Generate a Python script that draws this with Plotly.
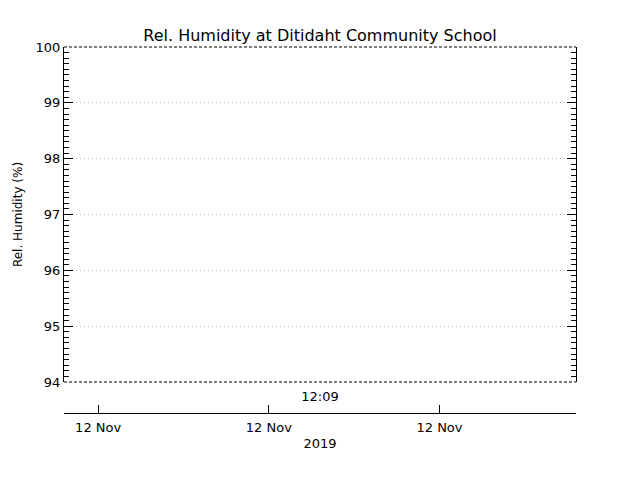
import plotly.graph_objects as go

# Data (no valid humidity readings in the window)
times = ["2019-11-12 12:09:00"]
humidity = [None]

x_range = ["2019-11-12 12:00:00", "2019-11-12 12:18:00"]
date_ticks = ["2019-11-12 12:01:12", "2019-11-12 12:07:12", "2019-11-12 12:13:12"]
date_labels = ["12 Nov", "12 Nov", "12 Nov"]
time_ticks = ["2019-11-12 12:09:00"]
time_labels = ["12:09"]
y_range = [94, 100]

font = dict(family="DejaVu Sans, sans-serif", size=13, color="black")

fig = go.Figure()

fig.add_trace(go.Scatter(
    x=times, y=humidity, mode="lines",
    line=dict(color="black", width=1), showlegend=False
))
# invisible trace so the lower date axis is drawn
fig.add_trace(go.Scatter(
    x=times, y=humidity, xaxis="x2", yaxis="y",
    mode="lines", showlegend=False, hoverinfo="skip"
))

# page body adds 8px offset, so margins are shifted by 8
fig.update_layout(
    width=640, height=480,
    margin=dict(l=56, r=72, t=39, b=75, autoexpand=False),
    paper_bgcolor="white", plot_bgcolor="white",
    font=font,
    title=dict(text="Rel. Humidity at Ditidaht Community School",
               x=(320 - 8) / 640, xanchor="center", y=1 - 27 / 480, yanchor="middle",
               yref="container", font=dict(family="DejaVu Sans, sans-serif", size=16, color="black")),
    xaxis=dict(
        type="date", range=x_range, domain=[0, 1],
        tickvals=time_ticks, ticktext=time_labels,
        ticks="", showgrid=False, showline=False, zeroline=False,
        anchor="y", ticklabelstandoff=5,
        tickfont=dict(size=13),
    ),
    xaxis2=dict(
        type="date", range=x_range, overlaying="x",
        anchor="free", position=0, side="bottom",
        tickvals=date_ticks, ticktext=date_labels,
        ticks="inside", ticklen=8, tickcolor="black",
        showline=True, linecolor="black", linewidth=1,
        showgrid=False, zeroline=False,
        tickfont=dict(size=13), ticklabelstandoff=2,
        title=dict(text="2019", standoff=5, font=dict(size=13)),
    ),
    yaxis=dict(
        range=y_range, domain=[31 / 366, 1],
        dtick=1, ticks="inside", ticklen=9, tickcolor="black",
        showline=True, linecolor="black", linewidth=1, mirror="ticks",
        showgrid=True, gridcolor="#bdbdbd", griddash="1px,3px", gridwidth=1,
        zeroline=False, tickfont=dict(size=13),
        minor=dict(dtick=0.1, ticks="inside", ticklen=5, tickcolor="black",
                   showgrid=False),
        title=dict(text="Rel. Humidity (%)", standoff=10, font=dict(size=12)),
    ),
    shapes=[
        dict(type="line", xref="x domain", yref="y domain",
             x0=0, x1=1, y0=1, y1=1,
             line=dict(color="black", width=1, dash="3px,2px")),
        dict(type="line", xref="x domain", yref="y domain",
             x0=0, x1=1, y0=0, y1=0,
             line=dict(color="black", width=1, dash="3px,2px")),
    ],
)

fig.write_html("out.html")
